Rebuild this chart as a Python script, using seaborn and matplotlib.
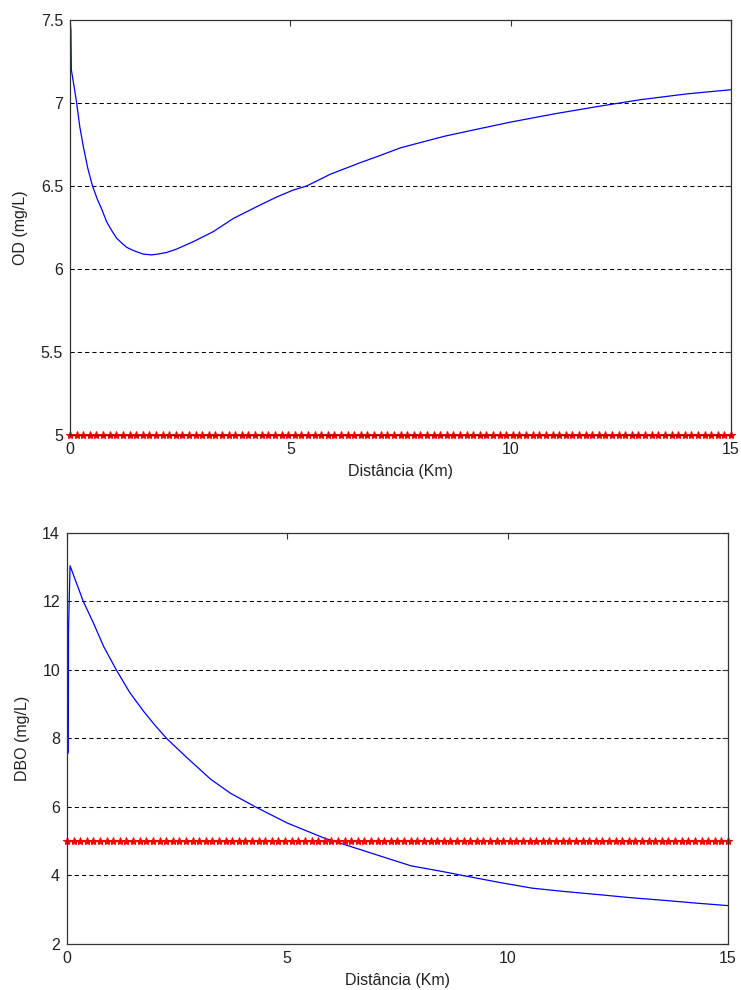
import numpy as np
import pandas as pd
import matplotlib
matplotlib.use("Agg")
import matplotlib.pyplot as plt
import seaborn as sns

# ===== dados =====
# OD (mg/L) ao longo do rio
od_x = [0, 0.02, 0.03, 0.11, 0.15, 0.22, 0.3, 0.4, 0.51, 0.62, 0.72, 0.83, 0.95, 1.06,
        1.18, 1.29, 1.45, 1.66, 1.85, 2.0, 2.2, 2.42, 2.8, 3.25, 3.71, 4.31, 4.7, 5.07,
        5.37, 5.9, 6.58, 7.0, 7.5, 8.0, 8.5, 9.2, 10.0, 11.0, 12.0, 12.95, 14.0, 15.0]
od_y = [7.5, 7.44, 7.2, 7.07, 7.0, 6.86, 6.74, 6.61, 6.5, 6.42, 6.36, 6.285, 6.23, 6.185,
        6.155, 6.13, 6.11, 6.09, 6.085, 6.09, 6.1, 6.12, 6.165, 6.225, 6.305, 6.385, 6.435,
        6.476, 6.5, 6.57, 6.64, 6.68, 6.73, 6.765, 6.8, 6.84, 6.885, 6.935, 6.98, 7.02,
        7.055, 7.08]

# DBO (mg/L) ao longo do rio
dbo_x = [0, 0.0, 0.03, 0.035, 0.07, 0.37, 0.6, 0.83, 1.12, 1.43, 1.74, 2.0, 2.26, 2.73,
         3.26, 3.71, 4.28, 5.0, 5.84, 6.67, 7.2, 7.81, 8.5, 9.1, 9.8, 10.55, 11.3, 12.07,
         12.8, 13.58, 14.3, 15.0]
dbo_y = [2.0, 7.5, 7.6, 11.2, 13.04, 12.0, 11.37, 10.69, 10.0, 9.33, 8.79, 8.38, 8.0, 7.43,
         6.81, 6.4, 6.0, 5.53, 5.09, 4.75, 4.53, 4.28, 4.12, 3.97, 3.8, 3.63, 3.53, 3.44,
         3.35, 3.27, 3.19, 3.12]

# limite da legislação (5 mg/L) nos pontos de cálculo
padrao_x = np.linspace(0, 15, 101)
padrao_od = [5.0] * len(padrao_x)
padrao_dbo = [5.0] * len(padrao_x)

od_ticks = [5, 5.5, 6, 6.5, 7, 7.5]
dbo_ticks = [2, 4, 6, 8, 10, 12, 14]
x_ticks = [0, 5, 10, 15]

# ===== estilo =====
sns.set_style("white")
plt.rcParams["font.family"] = ["Liberation Sans", "DejaVu Sans"]
plt.rcParams["font.size"] = 11.5

fig = plt.figure(figsize=(7.41, 9.9), dpi=100)
ax1 = fig.add_axes([0.0945, 0.5606, 0.892, 0.4192])
ax2 = fig.add_axes([0.0904, 0.0465, 0.892, 0.4152])


def formata(ax, ticks, ylim, ylabel, ticklabels):
    ax.set_xlim(0, 15)
    ax.set_ylim(*ylim)
    ax.set_xticks(x_ticks)
    ax.set_yticks(ticks)
    ax.set_yticklabels(ticklabels)
    for t in ticks[1:-1]:
        ax.axhline(t, color="black", linestyle=(0, (4, 3)), linewidth=0.75, zorder=0)
    ax.tick_params(direction="in", length=4, width=0.8, colors="#333333",
                   labelsize=11.5, labelcolor="#222222", top=True, right=True)
    ax.tick_params(axis="x", pad=5)
    ax.tick_params(axis="y", pad=5)
    for s in ax.spines.values():
        s.set_color("#333333")
        s.set_linewidth(0.9)
    ax.set_xlabel("Distância (Km)", fontsize=11.5, labelpad=5, color="#222222")
    ax.set_ylabel(ylabel, fontsize=11.5, labelpad=9, color="#222222")


# OD
sns.lineplot(x=od_x, y=od_y, ax=ax1, color="blue", linewidth=0.9,
             sort=False, estimator=None)
sns.lineplot(x=padrao_x, y=padrao_od, ax=ax1, color="red", linewidth=1.0,
             marker="*", markersize=6, markeredgecolor="red", clip_on=False)
formata(ax1, od_ticks, (5, 7.5), "OD (mg/L)", ["5", "5.5", "6", "6.5", "7", "7.5"])

# DBO
sns.lineplot(x=dbo_x, y=dbo_y, ax=ax2, color="blue", linewidth=0.9,
             sort=False, estimator=None)
sns.lineplot(x=padrao_x, y=padrao_dbo, ax=ax2, color="red", linewidth=1.0,
             marker="*", markersize=6, markeredgecolor="red", clip_on=False)
formata(ax2, dbo_ticks, (2, 14), "DBO (mg/L)", [str(t) for t in dbo_ticks])

fig.savefig("out.png", dpi=100, facecolor="white")
